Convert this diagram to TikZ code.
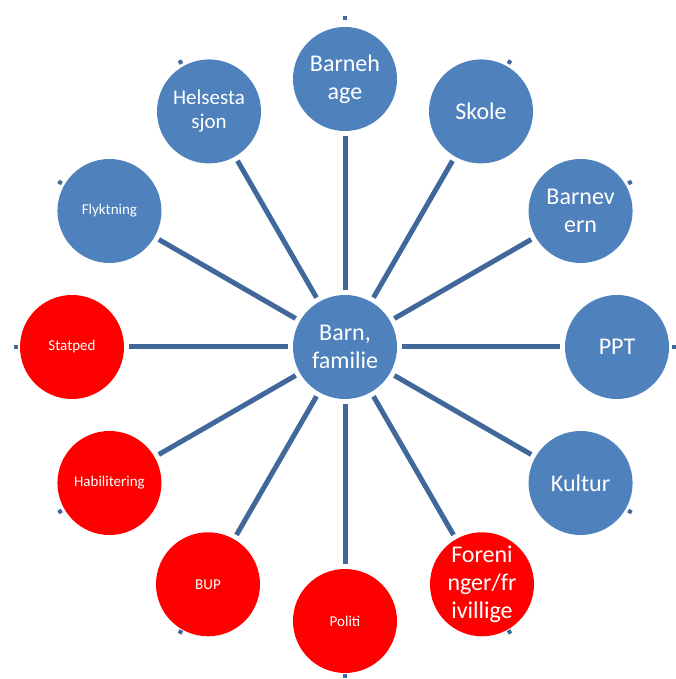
\documentclass[tikz,border=0pt]{standalone}
\usepackage{fontspec}
\setmainfont{Carlito}
\usetikzlibrary{calc}
\definecolor{cblue}{HTML}{4F81BD}
\definecolor{cred}{HTML}{FF0000}
\definecolor{cline}{HTML}{41689A}
\begin{document}
\begin{tikzpicture}[x=1pt,y=1pt,
  hub/.style={circle, minimum size=104pt, inner sep=0pt, outer sep=5pt, fill=cblue,
    text=white, align=center, font=\fontsize{24}{28}\selectfont},
  bluenode/.style={hub},
  rednode/.style={hub, fill=cred},
  smalltext/.style={font=\fontsize{15}{18}\selectfont},
  midtext/.style={font=\fontsize{21}{24}\selectfont},
  link/.style={draw=cline, line width=5pt},
  tick/.style={draw=cline, line width=4pt}]
\useasboundingbox (0,0) rectangle (675,679);
\coordinate (o) at (345,332);
\node[hub] (c) at (o) {Barn,\\familie};
\node[bluenode] (n1) at ($(o)+(90:268)$) {Barneh\\age};
\node[bluenode] (n2) at ($(o)+(60:272)$) {Skole};
\node[bluenode] (n3) at ($(o)+(30:272)$) {Barnev\\ern};
\node[bluenode] (n4) at ($(o)+(0:272)$) {PPT};
\node[bluenode] (n5) at ($(o)+(-30:272)$) {Kultur};
\node[rednode] (n6) at ($(o)+(-60:274)$) {Foreni\\nger/fr\\ivillige};
\node[rednode, smalltext] (n7) at ($(o)+(-90:274)$) {Politi};
\node[rednode, smalltext] (n8) at ($(o)+(-120:274)$) {BUP};
\node[rednode, smalltext] (n9) at ($(o)+(-150:272)$) {Habilitering};
\node[rednode, smalltext] (n10) at ($(o)+(180:273)$) {Statped};
\node[bluenode, smalltext] (n11) at ($(o)+(150:272)$) {Flyktning};
\node[bluenode, midtext] (n12) at ($(o)+(120:272)$) {Helsesta\\sjon};
\foreach \i in {1,...,12} {
  \draw[link] (c) -- (n\i);
}
\foreach \a [count=\k] in {90,60,30,0,-30,-60,-90,-120,-150,180,150,120} {
  \coordinate (ta\k) at ($(o)+(\a:327)$);
  \coordinate (tb\k) at ($(o)+(\a:331)$);
  \draw[tick] (ta\k) -- (tb\k);
}
\end{tikzpicture}
\end{document}
